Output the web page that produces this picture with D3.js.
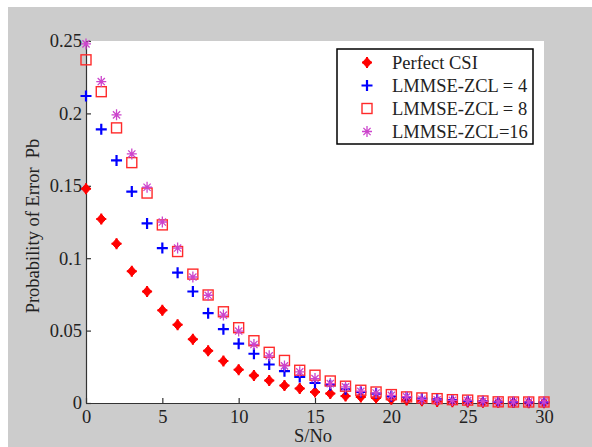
<!DOCTYPE html>
<html>
<head>
<meta charset="utf-8">
<script src="https://cdn.jsdelivr.net/npm/d3@7"></script>
<style>
  body { margin: 0; background: #fff; }
  svg { display: block; font-family: "Times New Roman", serif; }
  .axis text { font-size: 18.5px; fill: #222; font-family: "Times New Roman", serif; }
  .axis path, .axis line { stroke: #333; stroke-width: 1.2; }
</style>
</head>
<body>
<script>
// S/No values and Pb for each curve
var snr = [0,1,2,3,4,5,6,7,8,9,10,11,12,13,14,15,16,17,18,19,20,21,22,23,24,25,26,27,28,29,30];

var perfect = [0.148,0.127,0.110,0.091,0.077,0.064,0.054,0.044,0.036,0.029,0.023,0.019,0.0155,0.012,0.010,0.0076,0.0065,0.0048,0.0042,0.0035,0.0026,0.0020,0.0015,0.0011,0.0009,0.0007,0.0005,0.0004,0.0003,0.0002,0.0002];
var zcl4 = [0.212,0.189,0.1675,0.146,0.124,0.107,0.090,0.077,0.062,0.051,0.041,0.034,0.0266,0.022,0.018,0.0138,0.0123,0.0095,0.0076,0.0065,0.0046,0.0040,0.0030,0.0025,0.0020,0.0015,0.0012,0.0008,0.0006,0.0005,0.0005];
var zcl8 = [0.237,0.215,0.190,0.166,0.145,0.123,0.1046,0.089,0.0746,0.063,0.052,0.043,0.035,0.0294,0.0226,0.0192,0.0152,0.0116,0.0088,0.0076,0.0058,0.0042,0.0035,0.0030,0.0023,0.0020,0.0014,0.0008,0.0007,0.0007,0.0007];
var zcl16 = [0.248,0.222,0.199,0.172,0.149,0.125,0.107,0.087,0.0744,0.0607,0.0497,0.0404,0.0326,0.0256,0.0215,0.0169,0.0134,0.0111,0.0081,0.0069,0.0053,0.0043,0.0026,0.0022,0.0018,0.0016,0.0012,0.0008,0.0008,0.0008,0.0008];

var seriesNames = ["Perfect CSI", "LMMSE-ZCL = 4", "LMMSE-ZCL = 8", "LMMSE-ZCL=16"];
var xTicks = [0,5,10,15,20,25,30];
var yTicks = [0,0.05,0.1,0.15,0.2,0.25];

var W = 592, H = 447;
var plot = {left: 86, right: 544, top: 41, bottom: 403};

var svg = d3.select("body").append("svg")
    .attr("width", W)
    .attr("height", H);

// figure background
svg.append("rect")
    .attr("x", 8).attr("y", 7)
    .attr("width", W - 8).attr("height", H - 7)
    .attr("fill", "#cccccc");

svg.append("rect")
    .attr("x", plot.left).attr("y", plot.top)
    .attr("width", plot.right - plot.left).attr("height", plot.bottom - plot.top)
    .attr("fill", "#fff");

var x = d3.scaleLinear().domain([0, 30]).range([plot.left, plot.right]);
var y = d3.scaleLinear().domain([0, 0.25]).range([plot.bottom, plot.top]);

svg.append("g")
    .attr("class", "axis")
    .attr("transform", "translate(0," + plot.bottom + ")")
    .call(d3.axisBottom(x).tickValues(xTicks).tickSize(-5).tickSizeOuter(0).tickPadding(7)
      .tickFormat(function(d) { return String(d); }));

svg.append("g")
    .attr("class", "axis")
    .attr("transform", "translate(" + plot.left + ",0)")
    .call(d3.axisLeft(y).tickValues(yTicks).tickSize(-5).tickSizeOuter(0).tickPadding(4)
      .tickFormat(function(d) { return String(d); }));

svg.append("text")
    .attr("x", (plot.left + plot.right) / 2 - 2)
    .attr("y", 442)
    .attr("text-anchor", "middle")
    .attr("font-size", 18.5)
    .attr("fill", "#222")
    .text("S/No");

svg.append("text")
    .attr("transform", "translate(39," + ((plot.top + plot.bottom) / 2 + 4) + ") rotate(-90)")
    .attr("text-anchor", "middle")
    .attr("font-size", 18.5)
    .attr("fill", "#222")
    .style("white-space", "pre")
    .text("Probability of Error  Pb");

// marker drawers
function drawMarker(g, kind) {
  if (kind == 0) {
    g.append("path").attr("d", "M0,-5L4.5,0L0,5L-4.5,0Z")
      .attr("fill", "#ff0000").attr("stroke", "#ff0000").attr("stroke-width", 1);
    g.append("path").attr("d", "M-5,0H5M0,-5.5V5.5")
      .attr("stroke", "#ff0000").attr("stroke-width", 2);
  } else if (kind == 1) {
    g.append("path").attr("d", "M-5.5,0H5.5M0,-5.5V5.5")
      .attr("stroke", "#0000ff").attr("stroke-width", 2.2).attr("fill", "none");
  } else if (kind == 2) {
    g.append("rect").attr("x", -5).attr("y", -5).attr("width", 10).attr("height", 10)
      .attr("stroke", "#ff2a2a").attr("stroke-width", 1.4).attr("fill", "none");
  } else {
    g.append("path").attr("d", "M-5,0H5M0,-5.5V5.5M-3.6,-3.6L3.6,3.6M-3.6,3.6L3.6,-3.6")
      .attr("stroke", "#cc44cc").attr("stroke-width", 1.3).attr("fill", "none");
  }
}

var allSeries = [perfect, zcl4, zcl8, zcl16];

allSeries.forEach(function(vals, k) {
  var pts = svg.append("g").selectAll("g")
      .data(snr.map(function(s, i) { return {x: s, y: vals[i]}; }))
    .enter().append("g")
      .attr("transform", function(d) { return "translate(" + x(d.x) + "," + y(d.y) + ")"; });
  pts.each(function() { drawMarker(d3.select(this), k); });
});

// legend
var leg = svg.append("g");
leg.append("rect")
    .attr("x", 337).attr("y", 49)
    .attr("width", 196).attr("height", 95)
    .attr("fill", "#fff").attr("stroke", "#000").attr("stroke-width", 1.5);

seriesNames.forEach(function(name, k) {
  var by = 69 + k * 23;
  drawMarker(leg.append("g").attr("transform", "translate(367," + (by - 6.5) + ")"), k);
  leg.append("text")
      .attr("x", 392).attr("y", by)
      .attr("font-size", 18.5)
      .attr("fill", "#222")
      .text(name);
});
</script>
</body>
</html>
